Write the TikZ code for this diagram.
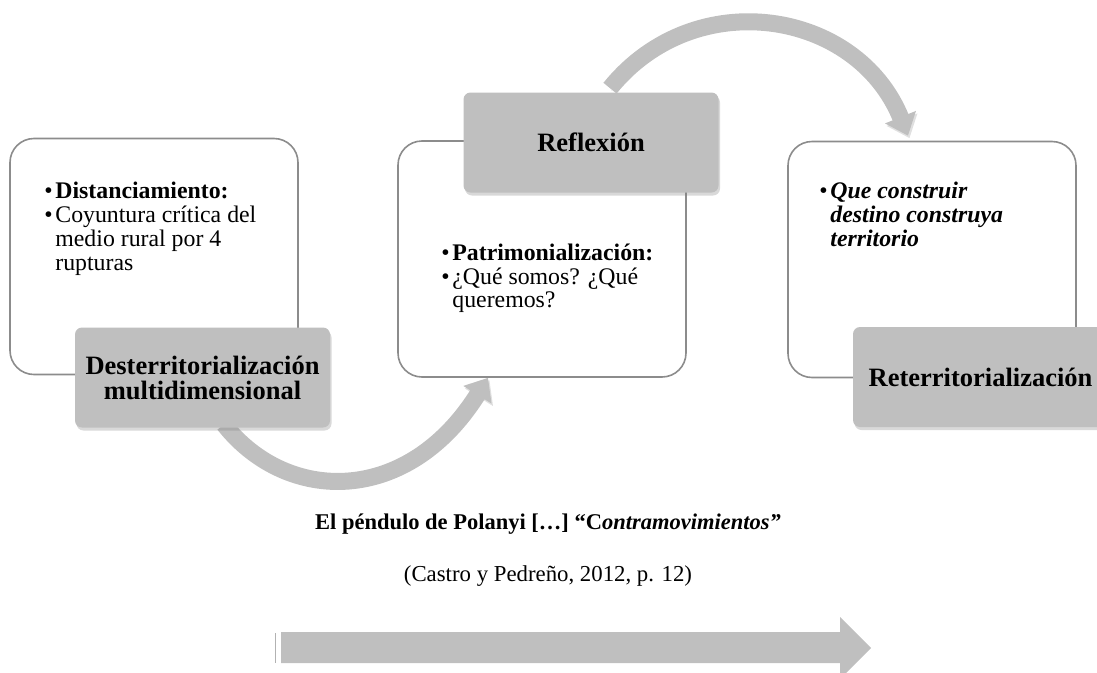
\documentclass[tikz,border=0pt]{standalone}
\usepackage{fontspec}
\setmainfont{Liberation Serif}
\usetikzlibrary{arrows.meta,shadows,calc,positioning}

\definecolor{boxgray}{HTML}{BFBFBF}
\definecolor{linegray}{HTML}{8C8C8C}

\newcommand\bitem[1]{\par\noindent\makebox[11pt][l]{\textbullet}\parbox[t]{230pt}{\raggedright#1\strut}\par}

\begin{document}
\begin{tikzpicture}[x=1pt, y=-1pt,
    card/.style={draw=linegray, line width=1.6pt, rounded corners=24pt, fill=white,
        minimum width=288pt, minimum height=236pt},
    tag/.style={fill=boxgray, rounded corners=7pt, minimum width=255pt, minimum height=100pt,
        align=center, font=\fontsize{26.5}{25}\selectfont\bfseries,
        drop shadow={opacity=0.3, shadow xshift=1.5pt, shadow yshift=-3pt}},
    notes/.style={anchor=north west, text width=245pt, inner sep=0pt, align=flush left,
        font=\fontsize{23.8}{23.8}\selectfont},
    swing/.style={draw=boxgray, line width=17pt, -{Triangle[width=32pt,length=20pt]},
        preaction={draw=black!12, transform canvas={xshift=1.5pt, yshift=-2.5pt}}}]
    \useasboundingbox (0,0) rectangle (1097,672);

    % white boxes
    \node[card] (card1) at (154,256.5) {};
    \node[card] (card2) at (542,259) {};
    \node[card] (card3) at (932,259.5) {};

    \node[notes] (txt1) at ($(card1.north west)+(35,37)$)
        {\bitem{\textbf{Distanciamiento:}}\bitem{Coyuntura crítica del\newline medio rural por 4\newline rupturas}};
    \node[notes] (txt2) at ($(card2.north west)+(44,96)$)
        {\bitem{\textbf{Patrimonialización:}}\bitem{¿Qué somos? ¿Qué\newline queremos?}};
    \node[notes] (txt3) at ($(card3.north west)+(32,34)$)
        {\bitem{\textbf{\textit{Que construir\newline destino construya\newline territorio}}}};

    % curved arrows
    \draw[swing] ($(card1.south)+(70,49)$) .. controls +(63,80) and +(-80,128) .. ($(card2.south)+(-54,0)$);
    \draw[swing] ($(card2.north)+(68,-52)$) .. controls +(85,-105) and +(-51,-126) .. ($(card3.north)+(-24,-5)$);

    % gray labels
    \node[tag] (tag1) at (202.5,377.5) {Desterritorialización\\multidimensional};
    \node[tag] (tag2) at (591,142.5) {Reflexión};
    \node[tag] (tag3) at (980.5,377) {Reterritorialización};

    % caption
    \node[font=\fontsize{22.5}{24}\selectfont\bfseries] (title) at (548,524)
        {El péndulo de Polanyi […] “C\textit{ontramovimientos”}};
    \node[font=\fontsize{22.8}{24}\selectfont, below=52pt of title.center, anchor=center] (cite)
        {(Castro y Pedreño, 2012, p. 12)};

    % bottom arrow
    \draw[draw=black!30, line width=1.4pt] (275.5,633) -- (275.5,663);
    \fill[boxgray] (281,632) -- (840,632) -- (840,617) -- (871,648) -- (840,679) -- (840,663) -- (281,663) -- cycle;
\end{tikzpicture}
\end{document}
